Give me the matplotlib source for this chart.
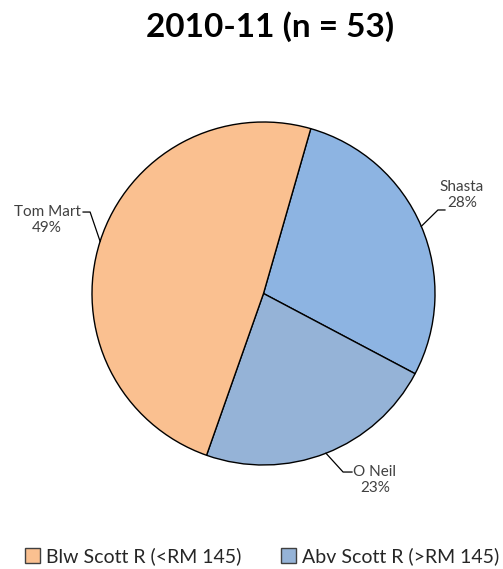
import matplotlib.pyplot as plt
from matplotlib.patches import Patch
import numpy as np

plt.rcParams['font.family'] = ['Lato', 'DejaVu Sans']

# Counts per site, 2010-11 season (n = 53)
sites = ['Shasta', 'O Neil', 'Tom Mart']
counts = [15, 12, 26]
site_colors = ['#8DB4E2', '#95B3D7', '#FAC090']

legend_labels = ['Blw Scott R (<RM 145)', 'Abv Scott R (>RM 145)']
legend_colors = ['#FAC090', '#95B3D7']

# label layout: text centre, elbow start, elbow end (pie radius = 1)
label_pos = [(1.157, 0.574), (0.650, -1.087), (-1.262, 0.429)]
elbows = [((1.017, 0.487), (1.058, 0.487)),
          ((0.464, -1.041), (0.516, -1.041)),
          ((-1.052, 0.475), (-1.011, 0.475))]

W, H = 503, 569
fig = plt.figure(figsize=(W / 100, H / 100), dpi=100)
cx, cy, r = 263.5, 293.5, 171.5
ax = fig.add_axes([(cx - r) / W, (H - cy - r) / H, 2 * r / W, 2 * r / H])

wedges, _ = ax.pie(counts, colors=site_colors, startangle=74, counterclock=False,
                   radius=1, wedgeprops=dict(edgecolor='black', linewidth=1.0))
ax.set_xlim(-1, 1)
ax.set_ylim(-1, 1)
ax.set_aspect('equal')
ax.axis('off')

total = sum(counts)
for w, name, c, pos, (e1, e2) in zip(wedges, sites, counts, label_pos, elbows):
    mid = np.deg2rad((w.theta1 + w.theta2) / 2)
    edge = (np.cos(mid), np.sin(mid))
    # leader line goes from the wedge edge to the elbow next to the text
    if edge[0] < 0:
        pts = [edge, e2, e1]
    else:
        pts = [edge, e1, e2]
    ax.plot([p[0] for p in pts], [p[1] for p in pts], color='black', lw=0.9,
            clip_on=False)
    pct = round(100 * c / total)
    ax.text(pos[0], pos[1], f'{name}\n{pct}%', ha='center', va='center',
            fontsize=11, color='#404040', linespacing=1.25, clip_on=False)

fig.text(270 / W, 1 - 27 / H, '2010-11 (n = 53)', ha='center', va='center',
         fontsize=24, fontweight='bold')

handles = [Patch(facecolor=col, edgecolor='#404040', linewidth=1.0) for col in legend_colors]
fig.legend(handles, legend_labels, loc='center', bbox_to_anchor=(262 / W, 1 - 556 / H),
           ncol=2, frameon=False, fontsize=14, handlelength=0.8, handleheight=0.8,
           handletextpad=0.3, columnspacing=2.0, labelcolor='#262626')

fig.savefig('out.png', dpi=100)
